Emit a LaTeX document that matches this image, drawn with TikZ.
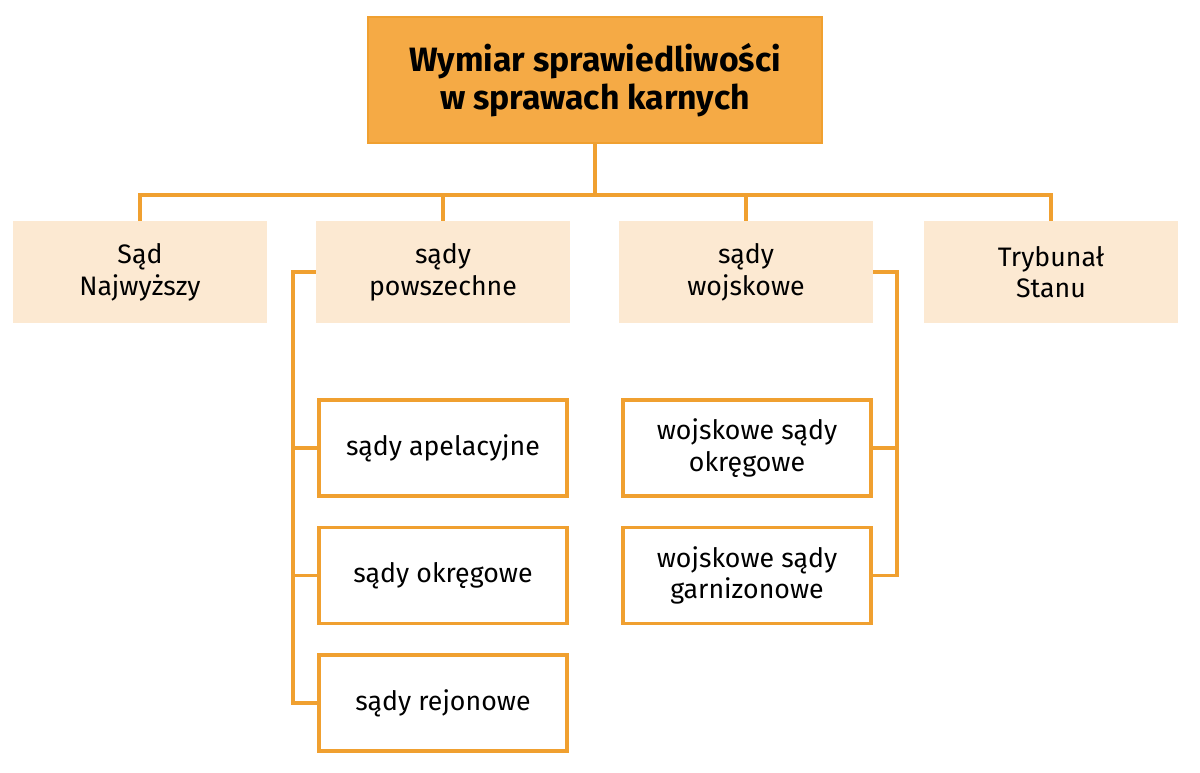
\documentclass[tikz,border=0pt]{standalone}
\usepackage{fontspec}
\setmainfont{Fira Sans}
\usetikzlibrary{positioning}
\definecolor{ora}{HTML}{F5AA45}
\definecolor{oraline}{HTML}{F0A030}
\definecolor{beige}{HTML}{FCE9D2}
\begin{document}
\begin{tikzpicture}[x=0.025cm, y=-0.025cm,
    font=\fontsize{19}{22.5}\selectfont,
    headbox/.style={rectangle, draw=oraline, line width=1.2pt, fill=ora, minimum width=11.35cm, minimum height=3.15cm, align=center, font=\fontsize{24}{27}\selectfont\bfseries},
    courtbox/.style={rectangle, fill=beige, minimum width=6.35cm, minimum height=2.55cm, align=center},
    subbox/.style={rectangle, draw=oraline, line width=2.5pt, fill=white, minimum width=6.2cm, minimum height=2.4cm, align=center},
    link/.style={draw=oraline, line width=2.5pt}
  ]
  \useasboundingbox (0,0) rectangle (1200,772);
  % top
  \node (head) [headbox] at (595,80) {Wymiar sprawiedliwości\\w sprawach karnych};
  % courts
  \node (sn) [courtbox] at (140,272) {Sąd\\Najwyższy};
  \node (sp) [courtbox] at (443,272) {sądy\\powszechne};
  \node (sw) [courtbox] at (746,272) {sądy\\wojskowe};
  \node (ts) [courtbox] at (1051,272) {Trybunał\\Stanu};
  % lower levels
  \node (apel) [subbox] at (443,448) {sądy apelacyjne};
  \node (okr) [subbox, below=0.7cm of apel] {sądy okręgowe};
  \node (rej) [subbox, below=0.7cm of okr] {sądy rejonowe};
  \node (wokr) [subbox] at (747,448) {wojskowe sądy\\okręgowe};
  \node (wgar) [subbox, below=0.7cm of wokr] {wojskowe sądy\\garnizonowe};
  % connectors
  \coordinate (bar) at (595,195);
  \draw[link] (head.south) -- (bar);
  \foreach \n in {sn,sp,sw,ts}
    \draw[link] (bar) -| (\n.north);
  \coordinate (lspine) at (293,272);
  \coordinate (rspine) at (897,272);
  \draw[link] (sp.west) -- (lspine) |- (rej.west);
  \draw[link] (lspine |- apel.west) -- (apel.west);
  \draw[link] (lspine |- okr.west) -- (okr.west);
  \draw[link] (sw.east) -- (rspine) |- (wgar.east);
  \draw[link] (rspine |- wokr.east) -- (wokr.east);
\end{tikzpicture}
\end{document}
